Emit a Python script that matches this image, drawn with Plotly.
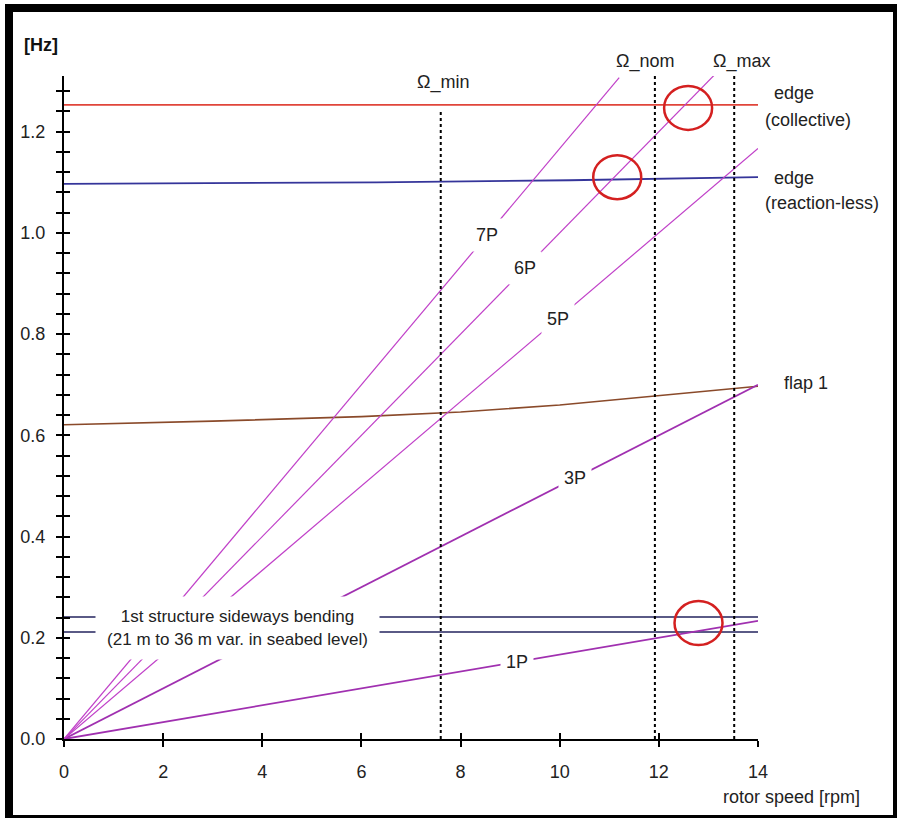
import plotly.graph_objects as go

# ---------------- data ----------------
orders = [1, 3, 5, 6, 7]
order_labels = ["1P", "3P", "5P", "6P", "7P"]
order_end_rpm = [14.0, 14.0, 14.0, 13.15, 11.2]
label_rpm = [9.14, 10.31, 9.97, 9.30, 8.53]

edge_coll_rpm = [0.0, 14.0]
edge_coll_hz = [1.253, 1.253]

edge_rl_rpm = [0.0, 6.3, 10.2, 12.6, 14.0]
edge_rl_hz = [1.097, 1.100, 1.104, 1.107, 1.110]

flap_rpm = [0.0, 3.0, 6.0, 8.0, 10.0, 12.0, 13.0, 14.0]
flap_hz = [0.621, 0.628, 0.637, 0.646, 0.660, 0.678, 0.688, 0.697]

struct_rpm = [0.0, 14.0]
struct_upper_hz = [0.241, 0.241]
struct_lower_hz = [0.2115, 0.2115]

omega_names = ["Ω_min", "Ω_nom", "Ω_max"]
omega_rpm = [7.6, 11.92, 13.52]
omega_top_hz = [1.24, 1.31, 1.31]

circle_rpm = [12.59, 11.16, 12.80]
circle_hz = [1.247, 1.110, 0.229]

x_ticks = [0, 2, 4, 6, 8, 10, 12, 14]
y_ticks = [0.0, 0.2, 0.4, 0.6, 0.8, 1.0, 1.2]

# ---------------- layout geometry ----------------
W, H = 898, 820
L, R, T, B = 64, 140, 76, 81
X0, X1 = 0.0, 14.0
Y0, Y1 = 0.0, 1.31
PW = W - L - R
PH = H - T - B

def px_x(px):
    return (px - L) / PW

def px_y(py):
    return (H - B - py) / PH

def dxp(x):
    return (x - X0) / (X1 - X0)

def dyp(y):
    return (y - Y0) / (Y1 - Y0)

FONT = "Liberation Sans, Arial, sans-serif"
MAG = "#c040c8"
MAG_DARK = "#a030b0"

fig = go.Figure()

# structure bending lines
for hz in (struct_upper_hz, struct_lower_hz):
    fig.add_trace(go.Scatter(x=struct_rpm, y=hz, mode="lines",
                             line=dict(color="#23235e", width=1.6),
                             hoverinfo="skip", showlegend=False))

# flap line
fig.add_trace(go.Scatter(x=flap_rpm, y=flap_hz, mode="lines",
                         line=dict(color="#8a4a2a", width=1.6),
                         hoverinfo="skip", showlegend=False))

# edge lines
fig.add_trace(go.Scatter(x=edge_coll_rpm, y=edge_coll_hz, mode="lines",
                         line=dict(color="#e0453a", width=1.8),
                         hoverinfo="skip", showlegend=False))
fig.add_trace(go.Scatter(x=edge_rl_rpm, y=edge_rl_hz, mode="lines",
                         line=dict(color="#35359a", width=1.8),
                         hoverinfo="skip", showlegend=False))

# nP excitation lines
for n, xe in zip(orders, order_end_rpm):
    col = MAG_DARK if n in (1, 3) else MAG
    wid = 1.8 if n in (1, 3) else 1.2
    fig.add_trace(go.Scatter(x=[0.0, xe], y=[0.0, n * xe / 60.0], mode="lines",
                             line=dict(color=col, width=wid),
                             hoverinfo="skip", showlegend=False))

# omega dotted lines
for xo, top in zip(omega_rpm, omega_top_hz):
    fig.add_trace(go.Scatter(x=[xo, xo], y=[0.0, top], mode="lines",
                             line=dict(color="black", width=2, dash="dot"),
                             hoverinfo="skip", showlegend=False))

# dummy trace for overlay axes (inside ticks)
fig.add_trace(go.Scatter(x=[None], y=[None], xaxis="x2", yaxis="y2",
                         showlegend=False, hoverinfo="skip"))

# circles
shapes = []
for cx, cy in zip(circle_rpm, circle_hz):
    shapes.append(dict(type="circle", xref="x", yref="y",
                       xsizemode="pixel", ysizemode="pixel",
                       xanchor=cx, yanchor=cy,
                       x0=-24, x1=24, y0=-22, y1=22,
                       line=dict(color="#d42020", width=2.5)))

# outer frame (black border of the picture)
frame = [
    (5, 4, 13, 818),     # left thick
    (5, 4, 897, 12),     # top thick
    (893, 4, 897, 818),  # right thin
    (5, 815, 897, 818),  # bottom thin
]
for a, b_, c, d in frame:
    shapes.append(dict(type="rect", xref="paper", yref="paper",
                       x0=px_x(a), x1=px_x(c), y0=px_y(d), y1=px_y(b_),
                       fillcolor="black", line=dict(width=0), layer="above"))

annotations = []
# order labels with white boxes interrupting the lines
for n, lab, xr in zip(orders, order_labels, label_rpm):
    annotations.append(dict(x=xr, y=n * xr / 60.0, xref="x", yref="y",
                            text=lab, showarrow=False, bgcolor="white",
                            width=30, height=30,
                            xanchor="center", yanchor="middle",
                            font=dict(family=FONT, size=18, color="#222")))

# structure text box
annotations.append(dict(x=3.50, y=0.219, xref="x", yref="y",
                        text="1st structure sideways bending<br>(21 m to 36 m var. in seabed level)",
                        showarrow=False, bgcolor="white", width=281, height=60,
                        xanchor="center", yanchor="middle",
                        font=dict(family=FONT, size=17, color="#222")))

# right side labels (paper coords)
right_labels = [
    ("edge", 14.28, 1.276),
    ("(collective)", 14.10, 1.223),
    ("edge", 14.28, 1.108),
    ("(reaction-less)", 14.10, 1.059),
    ("flap 1", 14.48, 0.703),
]
for txt, xx, yy in right_labels:
    annotations.append(dict(x=dxp(xx), y=dyp(yy), xref="paper", yref="paper",
                            text=txt, showarrow=False, xanchor="left",
                            yanchor="middle",
                            font=dict(family=FONT, size=18, color="#222")))

# omega labels
omega_label_pos = [(7.65, 1.298), (11.72, 1.338), (13.67, 1.338)]
for name, (xx, yy) in zip(omega_names, omega_label_pos):
    annotations.append(dict(x=dxp(xx), y=dyp(yy), xref="paper", yref="paper",
                            text=name, showarrow=False,
                            xanchor="center", yanchor="middle",
                            font=dict(family=FONT, size=18, color="#222")))

# axis titles
annotations.append(dict(x=px_x(22), y=px_y(45), xref="paper", yref="paper",
                        text="<b>[Hz]</b>", showarrow=False, xanchor="left",
                        yanchor="middle",
                        font=dict(family=FONT, size=18, color="#111")))
annotations.append(dict(x=px_x(862), y=px_y(797), xref="paper", yref="paper",
                        text="rotor speed [rpm]", showarrow=False, xanchor="right",
                        yanchor="middle",
                        font=dict(family=FONT, size=18, color="#222")))

axis_common = dict(showgrid=False, zeroline=False)

fig.update_layout(
    width=W, height=H,
    margin=dict(l=L, r=R, t=T, b=B, pad=0),
    paper_bgcolor="white", plot_bgcolor="white",
    showlegend=False,
    xaxis=dict(range=[X0, X1], tickvals=x_ticks, ticks="outside", ticklen=6,
               tickwidth=1.5, tickcolor="black", showline=True, linecolor="black",
               linewidth=2, ticklabelstandoff=9,
               tickfont=dict(family=FONT, size=18, color="#222"), **axis_common),
    yaxis=dict(range=[Y0, Y1], tickvals=y_ticks, tickformat=".1f", ticks="outside",
               ticklen=6, tickwidth=1.5, tickcolor="black", showline=True,
               linecolor="black", linewidth=2, ticklabelstandoff=7,
               minor=dict(dtick=0.04, tick0=0, ticks="outside", ticklen=6,
                          tickwidth=1.5, tickcolor="black"),
               tickfont=dict(family=FONT, size=18, color="#222"), **axis_common),
    xaxis2=dict(range=[X0, X1], overlaying="x", anchor="y2", side="bottom",
                tickvals=x_ticks, ticks="inside", ticklen=6, tickwidth=1.5,
                tickcolor="black", showticklabels=False, showline=False,
                **axis_common),
    yaxis2=dict(range=[Y0, Y1], overlaying="y", anchor="x2", side="left",
                tickvals=y_ticks, ticks="inside", ticklen=6, tickwidth=1.5,
                tickcolor="black", showticklabels=False, showline=False,
                minor=dict(dtick=0.04, tick0=0, ticks="inside", ticklen=6,
                           tickwidth=1.5, tickcolor="black"),
                **axis_common),
    shapes=shapes,
    annotations=annotations,
)

fig.write_html("out.html")
